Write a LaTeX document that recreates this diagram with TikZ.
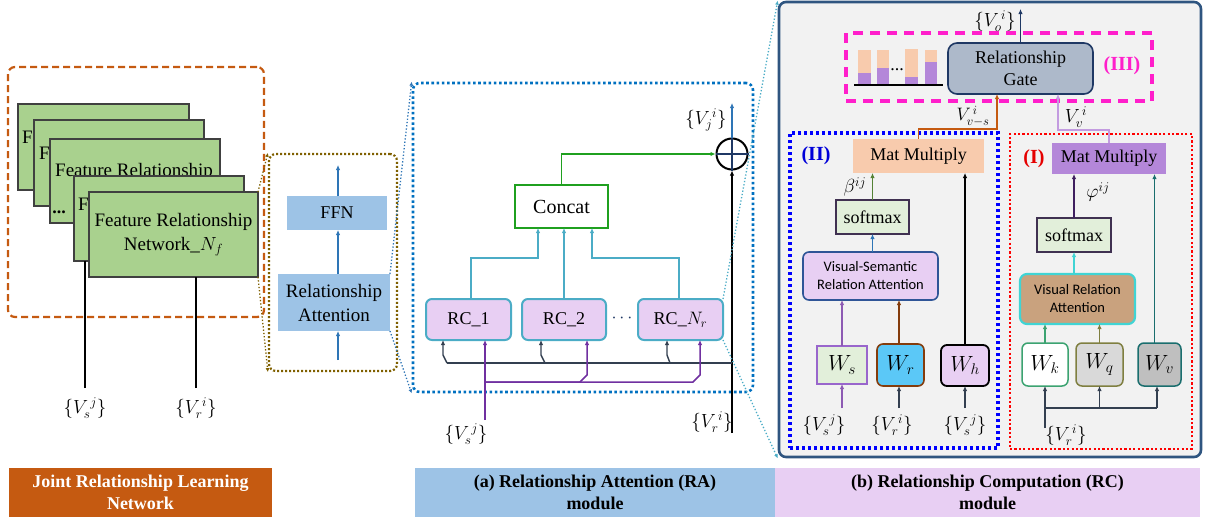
\RequirePackage{fix-cm}
\documentclass[tikz,border=0pt]{standalone}
\usepackage{fontspec}
\setmainfont{Liberation Serif}
\newfontfamily\carlito{Carlito}
\usetikzlibrary{arrows.meta}
\definecolor{cOrange}{HTML}{C55A11}
\definecolor{cGreenF}{HTML}{A9D18E}
\definecolor{cOlive}{HTML}{7F6000}
\definecolor{cBlueF}{HTML}{9DC3E6}
\definecolor{cBlueA}{HTML}{2E75B6}
\definecolor{cBlueD}{HTML}{0070C0}
\definecolor{cRC}{HTML}{E8CFF3}
\definecolor{cTeal}{HTML}{4BACC6}
\definecolor{cConcat}{HTML}{1FA01F}
\definecolor{cPurple}{HTML}{7030A0}
\definecolor{cDark}{HTML}{333F50}
\definecolor{cBg}{HTML}{F2F2F2}
\definecolor{cBorder}{HTML}{2F5580}
\definecolor{cMag}{HTML}{FF1FCB}
\definecolor{cGate}{HTML}{ADB9CA}
\definecolor{cNavy}{HTML}{1F3864}
\definecolor{cPeach}{HTML}{F8CBAD}
\definecolor{cBar}{HTML}{B487D9}
\definecolor{cII}{HTML}{0000FF}
\definecolor{cSoftF}{HTML}{E2EFDA}
\definecolor{cSoftB}{HTML}{403151}
\definecolor{cVSRAb}{HTML}{2F5597}
\definecolor{cWsB}{HTML}{9966CC}
\definecolor{cWrF}{HTML}{5BC8F7}
\definecolor{cBrown}{HTML}{843C0C}
\definecolor{cLPurp}{HTML}{C39BE0}
\definecolor{cRed}{HTML}{FF0000}
\definecolor{cVRAf}{HTML}{C9A27E}
\definecolor{cTurq}{HTML}{40D4D4}
\definecolor{cWkB}{HTML}{3CA371}
\definecolor{cWqF}{HTML}{D9D9D9}
\definecolor{cWqB}{HTML}{7F7F40}
\definecolor{cWvF}{HTML}{BFBFBF}
\definecolor{cWvB}{HTML}{1A6E6E}
\definecolor{cBeta}{HTML}{548235}
\definecolor{cPhi}{HTML}{3F1F5F}
\newcommand\fsNine{\fontsize{19}{24}\selectfont}
\newcommand\fsEight{\fontsize{18}{22}\selectfont}
\newcommand\fsMath{\fontsize{19}{22}\selectfont}
\newcommand\fsW{\fontsize{22}{24}\selectfont}
\newcommand\fsSans{\carlito\fontsize{14.5}{18}\selectfont}
\begin{document}
\begin{tikzpicture}[x=1pt,y=-1pt,
  box/.style={draw, inner sep=0pt, outer sep=0pt, align=center},
  frn/.style={box, fill=cGreenF, draw=black!75, line width=1.2, font=\fsNine},
  ftxt/.style={inner sep=0pt, anchor=west, font=\fsNine},
  arr/.style={-{Latex[length=5pt,width=4.5pt]}, line width=1.4},
  lbl/.style={inner sep=0pt, font=\fsMath},
  zoomline/.style={dotted, line width=1.3, -{Latex[length=4pt,width=4pt]}},
  bottomlbl/.style={inner sep=0pt, outer sep=0pt, align=center, font=\fsEight\bfseries}
]
\useasboundingbox (0,0) rectangle (1205,522);

% ---------------- Left: Joint relationship learning network
\node[frn, minimum width=171, minimum height=86] (g1) at (103.5,147) {};
\node[ftxt] (g1t) at (g1.west) [xshift=4pt,yshift=10pt] {F};
\node[frn, minimum width=170, minimum height=86] (g2) at (119,163) {};
\node[ftxt] (g2t) at (g2.west) [xshift=5pt,yshift=10pt] {F};
\node[frn, minimum width=170, minimum height=84] (g3) at (135,181) {};
\node[ftxt] (g3t) at (g3.west) [xshift=5pt,yshift=9pt] {Feature Relationship};
\node[inner sep=0pt, font=\fsEight\bfseries] (gdots) at (59,212) {...};
\node[frn, minimum width=170, minimum height=85] (g4) at (159,218.5) {};
\node[ftxt] (g4t) at (g4.west) [xshift=4pt,yshift=14pt] {F};
\node[frn, minimum width=169, minimum height=85] (g5) at (173.5,234.5) {Feature Relationship\\Network\_$N_f$};
\node[draw=cOrange, line width=2.2, dash pattern=on 7pt off 4pt, rounded corners=7, minimum width=256, minimum height=250, inner sep=0pt] (jrl) at (136,192) {};

\coordinate (ls) at (85,388);
\coordinate (lr) at (196,388);
\draw[line width=1.4] (ls) -- (ls |- g4.south);
\draw[line width=1.4] (lr) -- (lr |- g5.south);
\node[lbl] (lsl) at (85,408) {$\{V_s^{\,j}\}$};
\node[lbl] (lrl) at (196,408) {$\{V_r^{\,i}\}$};

% ---------------- RA box
\node[draw=cOlive, line width=2.2, dash pattern=on 2pt off 2pt, rounded corners=7, minimum width=128, minimum height=217, inner sep=0pt] (ol) at (333,262.5) {};
\node[box, draw=none, fill=cBlueF, minimum width=100, minimum height=34, font=\fsEight] (ffn) at (337,213) {FFN};
\node[box, draw=none, fill=cBlueF, minimum width=112, minimum height=57, font=\fsNine] (ra) at (334,302.5) {Relationship\\Attention};
\coordinate (rain) at (338,360);
\coordinate (raout) at (338,165);
\draw[arr, cBlueA] (rain) -- (rain |- ra.south);
\draw[arr, cBlueA] (rain |- ra.north) -- (rain |- ffn.south);
\draw[arr, cBlueA] (rain |- ffn.north) -- (raout);
\draw[zoomline, cOlive] (g5.north east) -- (ol.north west);
\draw[zoomline, cOlive] (g5.south east) -- (ol.south west);

% ---------------- Middle: RA module detail
\node[draw=cBlueD, line width=2.6, dash pattern=on 2.6pt off 2.6pt, rounded corners=7, minimum width=340, minimum height=309, inner sep=0pt] (bm) at (583,237.5) {};
\draw[zoomline, cBlueA] (ra.north east) -- (bm.north west);
\draw[zoomline, cBlueA] (ra.south east) -- (bm.south west);

\node[box, draw=cConcat, line width=1.6, fill=white, minimum width=93, minimum height=43, font=\fontsize{20}{24}\selectfont] (concat) at (561.5,206.5) {Concat};
\node[box, draw=cTeal, line width=2, fill=cRC, rounded corners=6, minimum width=85, minimum height=41, font=\fsEight] (rc1) at (468.5,319.5) {RC\_1};
\node[box, draw=cTeal, line width=2, fill=cRC, rounded corners=6, minimum width=84, minimum height=41, font=\fsEight] (rc2) at (564,319.5) {RC\_2};
\node[box, draw=cTeal, line width=2, fill=cRC, rounded corners=6, minimum width=85, minimum height=41, font=\fsEight] (rcn) at (680.5,319.5) {RC\_$N_r$};
\node[inner sep=0pt, text=cNavy, font=\fsEight] (rcdots) at (622,318) {$\cdots$};

\draw[arr, cTeal, line width=2] ([xshift=2.5pt]rc1.north) |- (538,258) -- ([xshift=-23.5pt]concat.south);
\draw[arr, cTeal, line width=2] (rc2.north) -- (rc2.north |- concat.south);
\draw[arr, cTeal, line width=2] ([xshift=-1.5pt]rcn.north) |- (592,258) -- ([xshift=30.5pt]concat.south);

\node[circle, draw=black, line width=2, minimum size=31, inner sep=0pt] (plus) at (732,154) {};
\draw[cNavy, line width=2] (plus.west) -- (plus.east);
\draw[cNavy, line width=2] (plus.north) -- (plus.south);
\draw[arr, cConcat, line width=1.6] (concat.north) |- (plus.west);
\coordinate (vjout) at (732,103);
\draw[arr, cBlueA, line width=1.6] (plus.north) -- (vjout);
\node[lbl] (vjl) at (706,120) {$\{V_j^{\,i}\}$};

\coordinate (vrin) at (732,433);
\draw[arr, black, line width=1.6] (vrin) -- (plus.south);
\node[lbl] (vrl) at (712,422) {$\{V_r^{\,i}\}$};
\coordinate (bus) at (732,363);
\draw[cDark, line width=1.4] (bus) -- (447,363);
\coordinate (t1) at (447,363);
\coordinate (t2) at (545,363);
\coordinate (t3) at (670,363);
\draw[arr, cDark, line width=1.4] (t1) -- ++(-4,-8) -- ([xshift=-25.5pt]rc1.south);
\draw[arr, cDark, line width=1.4] (t2) -- ++(-4,-8) -- ([xshift=-23pt]rc2.south);
\draw[arr, cDark, line width=1.4] (t3) -- ++(-3,-8) -- ([xshift=-13.5pt]rcn.south);

\coordinate (vsin) at (485,420);
\coordinate (pbus) at (485,382);
\draw[arr, cPurple, line width=1.5] (vsin) -- (vsin |- rc1.south);
\draw[arr, cPurple, line width=1.5] (pbus) -- ++(95,0) -- ++(7,-7) -- ([xshift=23pt]rc2.south);
\draw[arr, cPurple, line width=1.5] (pbus) -- ++(208,0) -- ++(7,-7) -- ([xshift=19.5pt]rcn.south);
\node[lbl] (vsl) at (466,434) {$\{V_s^{\,j}\}$};

% ---------------- Right: RC module detail
\node[draw=cBorder, fill=cBg, line width=2.6, rounded corners=7, minimum width=422, minimum height=455, inner sep=0pt] (big) at (990,229.5) {};
\draw[zoomline, cTeal] (rcn.north east) -- (big.north west);
\draw[zoomline, cTeal] (rcn.south east) -- (big.south west);

% (III)
\node[draw=cMag, line width=3.2, dash pattern=on 10pt off 7pt, minimum width=306, minimum height=68, inner sep=0pt] (g3box) at (999,67) {};
\node[box, draw=cNavy, line width=1.6, fill=cGate, rounded corners=9, minimum width=145, minimum height=51, font=\fsEight] (gate) at (1020.5,68.5) {Relationship\\Gate};
\node[inner sep=0pt, text=cMag, font=\fontsize{20}{24}\selectfont\bfseries] (l3) at (1122,66) {(III)};
\coordinate (vout) at (1020.5,9);
\draw[arr, cNavy, line width=1.8] (gate.north) -- (vout);
\node[lbl] (vol) at (995,21) {$\{V_o^{\,i}\}$};
% bar chart
\fill[cPeach] (858,50) rectangle (871,85);
\fill[cBar] (858,73) rectangle (871,85);
\fill[cPeach] (877,50) rectangle (889,85);
\fill[cBar] (877,68) rectangle (889,85);
\fill[cPeach] (905,49) rectangle (918,85);
\fill[cBar] (905,77) rectangle (918,85);
\fill[cPeach] (925,50) rectangle (937,85);
\fill[cBar] (925,62) rectangle (937,85);
\draw[black, line width=1.2] (854,85) -- (943,85);
\node[inner sep=0pt, font=\fsEight] (bdots) at (897,70) {...};

% (II)
\node[draw=cII, line width=3.2, dash pattern=on 3pt off 3pt, minimum width=208, minimum height=315, inner sep=0pt] (b2) at (894,290.5) {};
\node[inner sep=0pt, text=cII!85!black, font=\fontsize{20}{24}\selectfont\bfseries] (l2) at (816,156) {(II)};
\node[box, draw=none, fill=cPeach, minimum width=131, minimum height=34, font=\fsEight] (m2) at (918.5,156) {Mat Multiply};
\node[box, draw=cSoftB, line width=1.5, fill=cSoftF, minimum width=73, minimum height=34, font=\fsEight] (s2) at (872.5,217) {softmax};
\node[box, draw=cVSRAb, line width=1.6, fill=cRC, rounded corners=6, minimum width=135, minimum height=48, font=\fsSans] (vsra) at (870.5,276) {Visual-Semantic\\Relation Attention};
\node[box, draw=cWsB, line width=1.5, fill=cSoftF, minimum width=50, minimum height=38, font=\fsW] (ws) at (842,365) {$W_s$};
\node[box, draw=cBrown, line width=1.6, fill=cWrF, rounded corners=6, minimum width=47, minimum height=42, font=\fsW] (wr) at (900.5,365) {$W_r$};
\node[box, draw=black, line width=1.8, fill=cRC, rounded corners=6, minimum width=48, minimum height=41, font=\fsW] (wh) at (965,365.5) {$W_h$};
\draw[arr, cBeta, line width=1.6] (s2.north) -- (s2.north |- m2.south);
\node[lbl] (betal) at (855,187) {$\beta^{ij}$};
\draw[arr, cBlueA, line width=1.4] (s2.south |- vsra.north) -- (s2.south);
\draw[arr, cPurple!80, line width=1.5] (ws.north) -- (ws.north |- vsra.south);
\draw[arr, cBrown, line width=2] ([xshift=-1.5pt]wr.north) -- ([xshift=-1.5pt]wr.north |- vsra.south);
\draw[arr, black, line width=1.4] (wh.north) -- (wh.north |- m2.south);
\coordinate (i1) at (842,408);
\coordinate (i2) at (899,408);
\coordinate (i3) at (965,408);
\draw[arr, cPurple!80, line width=1.5] (i1) -- (ws.south);
\draw[arr, cDark, line width=1.4] (i2) -- (i2 |- wr.south);
\draw[arr, cDark, line width=1.4] (i3) -- (wh.south);
\node[lbl] (i1l) at (824,425) {$\{V_s^{\,j}\}$};
\node[lbl] (i2l) at (892,425) {$\{V_r^{\,i}\}$};
\node[lbl] (i3l) at (965,425) {$\{V_s^{\,j}\}$};

% (I)
\node[draw=cRed, line width=2.4, dash pattern=on 2.2pt off 2.2pt, minimum width=182, minimum height=315, inner sep=0pt] (b1) at (1101,291.5) {};
\node[inner sep=0pt, text=cRed!90!black, font=\fontsize{20}{24}\selectfont\bfseries] (l1) at (1034,159) {(I)};
\node[box, draw=none, fill=cBar, minimum width=114, minimum height=31, font=\fsEight] (m1) at (1109,158.5) {Mat Multiply};
\node[box, draw=cSoftB, line width=1.5, fill=cSoftF, minimum width=74, minimum height=34, font=\fsEight] (s1) at (1074,235) {softmax};
\node[box, draw=cTurq, line width=2.2, fill=cVRAf, rounded corners=7, minimum width=115, minimum height=50, font=\fsSans] (vra) at (1077.5,299) {Visual Relation\\Attention};
\node[box, draw=cWkB, line width=1.5, fill=white, rounded corners=6, minimum width=46, minimum height=43, font=\fsW] (wk) at (1045,364.5) {$W_k$};
\node[box, draw=cWqB, line width=1.5, fill=cWqF, rounded corners=6, minimum width=47, minimum height=43, font=\fsW] (wq) at (1099.5,364.5) {$W_q$};
\node[box, draw=cWvB, line width=1.5, fill=cWvF, rounded corners=6, minimum width=43, minimum height=43, font=\fsW] (wv) at (1159.5,364.5) {$W_v$};
\draw[arr, cPhi, line width=2] (s1.north) -- (s1.north |- m1.south);
\node[lbl] (phil) at (1098,192) {$\varphi^{ij}$};
\draw[arr, cTurq, line width=2] (s1.south |- vra.north) -- (s1.south);
\draw[arr, cWkB, line width=1.5] (wk.north) -- (wk.north |- vra.south);
\draw[arr, cWqB, line width=1.5] (wq.north) -- (wq.north |- vra.south);
\draw[arr, cWvB, line width=1.5] ([xshift=-5pt]wv.north) -- ([xshift=-5pt]wv.north |- m1.south);
\coordinate (vr3) at (1045,428);
\coordinate (vrbus) at (1045,408);
\draw[arr, cDark, line width=1.5] (vr3) -- (wk.south);
\draw[cDark, line width=1.5] (vrbus) -- (1157,408);
\draw[arr, cDark, line width=1.5] (wq.south |- vrbus) -- (wq.south);
\draw[arr, cDark, line width=1.5] ([xshift=-2.5pt]wv.south |- vrbus) -- ([xshift=-2.5pt]wv.south);
\node[lbl] (vr3l) at (1066,435) {$\{V_r^{\,i}\}$};

% connections to gate
\draw[arr, cOrange, line width=1.6] (m2.north) -- ++(0,-10) -| ([xshift=-23.5pt]gate.south);
\node[lbl, font=\fontsize{18}{20}\selectfont] (vvsl) at (973,116) {$V_{v-s}^{\,i}$};
\draw[arr, cLPurp, line width=1.6] (m1.north) -- ++(0,-13) -| ([xshift=37.5pt]gate.south);
\node[lbl] (vvl) at (1076,117) {$V_{v}^{\,i}$};

% ---------------- Bottom captions
\node[bottomlbl, fill=cOrange, text=white, minimum width=263, minimum height=49] (capj) at (140.5,492.5) {Joint Relationship Learning\\Network};
\node[bottomlbl, fill=cBlueF, minimum width=360, minimum height=49] (capa) at (595,492.5) {(a) Relationship Attention (RA)\\module};
\node[bottomlbl, fill=cRC, minimum width=425, minimum height=49] (capb) at (987.5,492.5) {(b) Relationship Computation (RC)\\module};
\end{tikzpicture}
\end{document}
